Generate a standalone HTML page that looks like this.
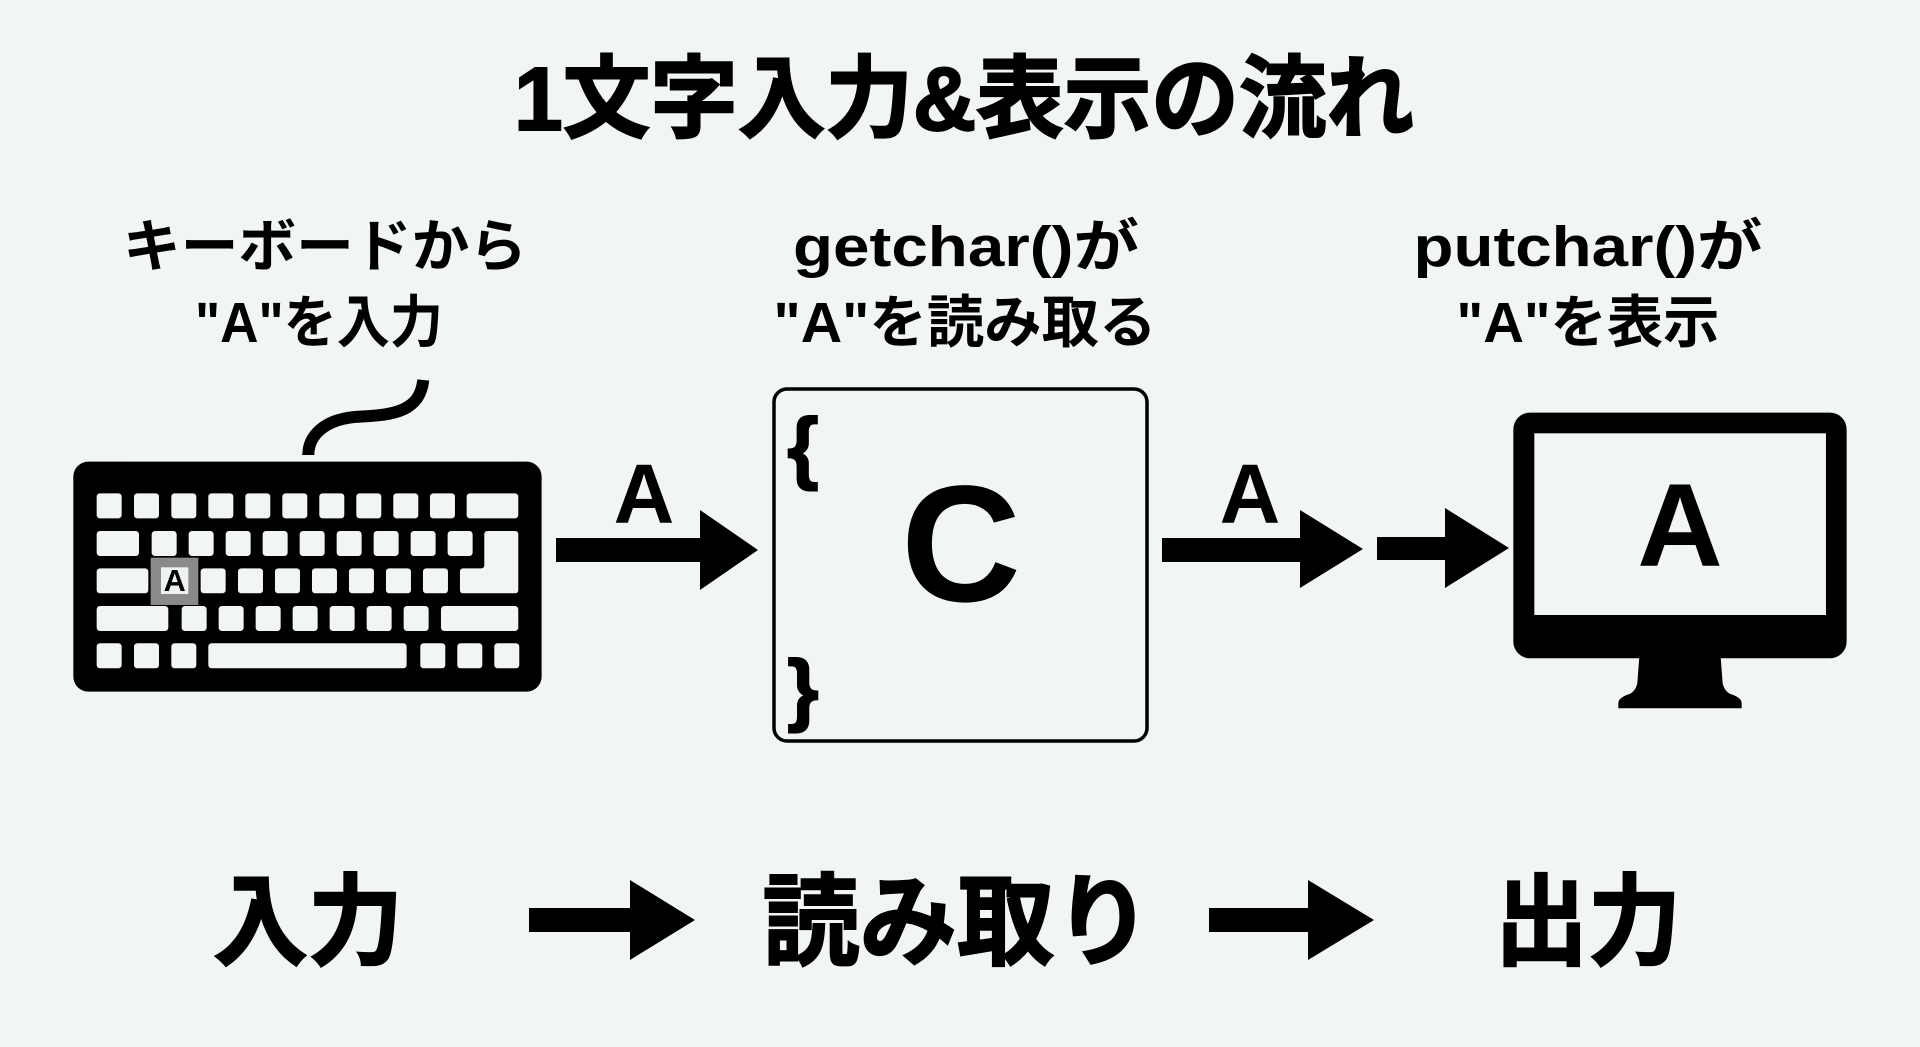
<!DOCTYPE html>
<html><head><meta charset="utf-8"><style>
html,body{margin:0;padding:0;background:#f1f5f6;}
svg{display:block;}
text{font-family:"Liberation Sans","Noto Sans CJK JP",sans-serif;font-weight:bold;fill:#000;}
.heavy{stroke:#000;stroke-width:2;}
</style></head><body>
<svg width="1920" height="1047" viewBox="0 0 1920 1047" xmlns="http://www.w3.org/2000/svg">
<rect width="1920" height="1047" fill="#f1f5f6"/>
<!-- title -->
<text class="heavy" x="964" y="130" font-size="90" text-anchor="middle" textLength="900" lengthAdjust="spacingAndGlyphs">1文字入力&amp;表示の流れ</text>
<!-- labels -->
<text x="325" y="266" font-size="57" text-anchor="middle" textLength="404" lengthAdjust="spacingAndGlyphs">キーボードから</text>
<text x="319" y="342" font-size="57" text-anchor="middle" textLength="248" lengthAdjust="spacingAndGlyphs">"A"を入力</text>
<text x="966" y="266" font-size="57" text-anchor="middle" textLength="346" lengthAdjust="spacingAndGlyphs">getchar()が</text>
<text x="965" y="342" font-size="57" text-anchor="middle" textLength="383" lengthAdjust="spacingAndGlyphs">"A"を読み取る</text>
<text x="1588" y="266" font-size="57" text-anchor="middle" textLength="349" lengthAdjust="spacingAndGlyphs">putchar()が</text>
<text x="1588" y="342" font-size="57" text-anchor="middle" textLength="263" lengthAdjust="spacingAndGlyphs">"A"を表示</text>

<!-- keyboard -->
<g transform="translate(60,380) scale(0.3333)">
<path d="M745,225 C745,170 790,115 900,110 C1010,105 1080,90 1090,0" fill="none" stroke="#000" stroke-width="36"/>
<rect x="40" y="245" width="1405" height="690" rx="45" fill="#000"/>
<g fill="#f1f5f6">
<rect x="110" y="340" width="75" height="75" rx="10"/><rect x="222" y="340" width="75" height="75" rx="10"/><rect x="334" y="340" width="75" height="75" rx="10"/><rect x="445" y="340" width="75" height="75" rx="10"/><rect x="556" y="340" width="75" height="75" rx="10"/><rect x="667" y="340" width="75" height="75" rx="10"/><rect x="778" y="340" width="75" height="75" rx="10"/><rect x="889" y="340" width="75" height="75" rx="10"/><rect x="1000" y="340" width="75" height="75" rx="10"/><rect x="1110" y="340" width="75" height="75" rx="10"/><rect x="1220" y="340" width="155" height="75" rx="10"/>
<rect x="110" y="453" width="127" height="75" rx="10"/><rect x="275" y="453" width="75" height="75" rx="10"/><rect x="386" y="453" width="75" height="75" rx="10"/><rect x="497" y="453" width="75" height="75" rx="10"/><rect x="608" y="453" width="75" height="75" rx="10"/><rect x="719" y="453" width="75" height="75" rx="10"/><rect x="830" y="453" width="75" height="75" rx="10"/><rect x="941" y="453" width="75" height="75" rx="10"/><rect x="1052" y="453" width="75" height="75" rx="10"/><rect x="1163" y="453" width="75" height="75" rx="10"/>
<path d="M1283,453 H1365 Q1375,453 1375,463 V630 Q1375,640 1365,640 H1210 Q1200,640 1200,630 V575 Q1200,565 1210,565 H1263 Q1273,565 1273,555 V463 Q1273,453 1283,453 Z"/>
<rect x="110" y="565" width="155" height="75" rx="10"/><rect x="422" y="565" width="75" height="75" rx="10"/><rect x="534" y="565" width="75" height="75" rx="10"/><rect x="645" y="565" width="75" height="75" rx="10"/><rect x="756" y="565" width="75" height="75" rx="10"/><rect x="867" y="565" width="75" height="75" rx="10"/><rect x="978" y="565" width="75" height="75" rx="10"/><rect x="1089" y="565" width="75" height="75" rx="10"/>
<rect x="110" y="678" width="215" height="75" rx="10"/><rect x="365" y="678" width="75" height="75" rx="10"/><rect x="476" y="678" width="75" height="75" rx="10"/><rect x="587" y="678" width="75" height="75" rx="10"/><rect x="698" y="678" width="75" height="75" rx="10"/><rect x="809" y="678" width="75" height="75" rx="10"/><rect x="920" y="678" width="75" height="75" rx="10"/><rect x="1031" y="678" width="75" height="75" rx="10"/><rect x="1143" y="678" width="232" height="75" rx="10"/>
<rect x="110" y="790" width="75" height="75" rx="10"/><rect x="222" y="790" width="75" height="75" rx="10"/><rect x="334" y="790" width="75" height="75" rx="10"/><rect x="445" y="790" width="595" height="75" rx="10"/><rect x="1081" y="790" width="75" height="75" rx="10"/><rect x="1192" y="790" width="75" height="75" rx="10"/><rect x="1303" y="790" width="75" height="75" rx="10"/>
</g>
<rect x="272" y="533" width="143" height="142" fill="#8a8a8a"/>
<rect x="303" y="562" width="82" height="80" fill="#eef2f3"/>
<text x="344" y="633" font-size="92" text-anchor="middle">A</text>
</g>

<!-- arrow 1 -->
<text x="644" y="523" font-size="84" text-anchor="middle">A</text>
<path d="M556,538 H700 V510 L758,550 L700,590 V562 H556 Z" fill="#000"/>

<!-- C box -->
<rect x="774" y="389" width="373" height="352" rx="13" fill="none" stroke="#000" stroke-width="3.5"/>
<text class="heavy" x="803" y="474" font-size="80" text-anchor="middle">{</text>
<text class="heavy" x="803" y="716" font-size="80" text-anchor="middle">}</text>
<text x="961" y="601" font-size="166" text-anchor="middle">C</text>

<!-- arrow 2 -->
<text x="1250" y="523" font-size="84" text-anchor="middle">A</text>
<path d="M1162,538 H1300 V510 L1363,549 L1300,588 V562 H1162 Z" fill="#000"/>
<!-- arrow 3 -->
<path d="M1377,537 H1445 V508 L1509,548 L1445,588 V560 H1377 Z" fill="#000"/>

<!-- monitor -->
<g transform="translate(1500,400) scale(0.3333)">
<rect x="40" y="38" width="1000" height="737" rx="50" fill="#000"/>
<rect x="103" y="100" width="875" height="545" fill="#f1f5f6"/>
<path d="M418,770 H662 L668,850 Q675,880 700,885 Q725,895 725,910 V925 H355 V910 Q355,895 380,885 Q405,880 412,850 Z" fill="#000"/>
<text x="540" y="497" font-size="355" text-anchor="middle">A</text>
</g>

<!-- bottom row -->
<text class="heavy" x="308" y="957" font-size="100" text-anchor="middle" textLength="190" lengthAdjust="spacingAndGlyphs">入力</text>
<path d="M529,908 H630 V880 L695,920 L630,960 V932 H529 Z" fill="#000"/>
<text class="heavy" x="957" y="957" font-size="100" text-anchor="middle" textLength="389" lengthAdjust="spacingAndGlyphs">読み取り</text>
<path d="M1209,908 H1308 V880 L1374,920 L1308,960 V932 H1209 Z" fill="#000"/>
<text class="heavy" x="1588" y="957" font-size="100" text-anchor="middle" textLength="186" lengthAdjust="spacingAndGlyphs">出力</text>
</svg>
</body></html>
